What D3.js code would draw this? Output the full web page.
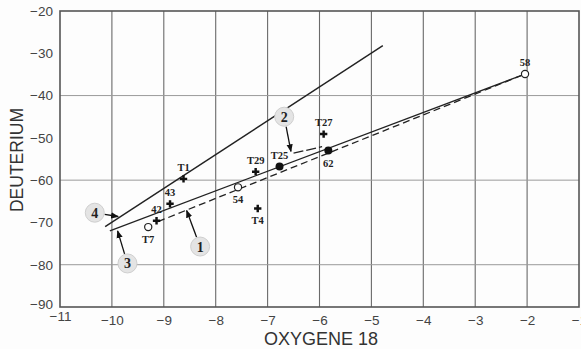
<!DOCTYPE html>
<html><head><meta charset="utf-8">
<script src="https://cdn.jsdelivr.net/npm/d3@7"></script>
<style>body{margin:0;background:#fdfdfd}svg{display:block}</style>
</head><body>
<svg id="c" width="581" height="349"></svg>
<script>
// Data
const xTicks = [-11,-10,-9,-8,-7,-6,-5,-4,-3,-2,-1];
const yTicks = [-20,-30,-40,-50,-60,-70,-80,-90];
const yGrid = [-40,-60,-80];
const sampleNames = ["T1","43","42","T7","54","T4","T29","T25","T27","62","58"];
const sampleO18 = [-8.62,-8.88,-9.14,-9.30,-7.57,-7.19,-7.23,-6.77,-5.92,-5.83,-2.04];
const sampleD   = [-59.7,-65.6,-69.6,-71.1,-61.7,-66.7,-58.0,-56.8,-49.1,-53.0,-34.9];
const sampleMarker = ["cross","cross","cross","open","open","cross","cross","dot","cross","dot","open"];
const labelPos = ["above","above","above","below","below","below","above","above","above","below","above"];
// Lines: [x1,y1,x2,y2]
const line4 = [-10.13,-71.0,-4.78,-28.2];   // GMWL
const line3 = [-10.04,-72.0,-2.04,-34.9];   // solid regression
const line1 = [-9.11,-69.8,-2.04,-34.9];    // dashed
const line2 = [-6.50,-53.6,-5.95,-52.1];    // short segment
// Callouts: number, bubble centre, arrow tip
const calloutNum = ["1","2","3","4"];
const calloutO18 = [-8.30,-6.68,-9.70,-10.33];
const calloutD   = [-75.7,-45.0,-79.7,-67.7];
const tipO18 = [-8.56,-6.55,-9.89,-9.88];
const tipD   = [-67.2,-53.2,-72.0,-68.6];

const svg = d3.select("#c");
const L=60,R=579,T=11,B=307;
const x = d3.scaleLinear().domain([-11,-1]).range([L,R]);
const y = d3.scaleLinear().domain([-90,-20]).range([B,T]);

// grid
svg.append("g").selectAll("line").data(xTicks.slice(1,-1)).join("line")
  .attr("x1",d=>x(d)).attr("x2",d=>x(d)).attr("y1",T).attr("y2",B)
  .attr("stroke","#6a6a6a").attr("stroke-width",1.1);
svg.append("g").selectAll("line").data(yGrid).join("line")
  .attr("x1",L).attr("x2",R).attr("y1",d=>y(d)).attr("y2",d=>y(d))
  .attr("stroke","#9a9a9a").attr("stroke-width",1);

// frame
svg.append("rect").attr("x",L).attr("y",T).attr("width",R-L).attr("height",B-T)
  .attr("fill","none").attr("stroke","#555").attr("stroke-width",1.6);

// axes tick labels
const xa = d3.axisBottom(x).tickValues(xTicks).tickSize(0).tickFormat(d3.format("d"));
const gx = svg.append("g").attr("transform",`translate(0,${B+5})`).call(xa);
gx.select(".domain").remove();
gx.selectAll("text").attr("font-family","Liberation Sans, Arial").attr("font-size",13.5).attr("fill","#444");
const ya = d3.axisLeft(y).tickValues(yTicks).tickSize(0).tickFormat(d3.format("d"));
const gy = svg.append("g").attr("transform",`translate(${L-4},0)`).call(ya);
gy.select(".domain").remove();
gy.selectAll("text").attr("font-family","Liberation Sans, Arial").attr("font-size",13.5).attr("fill","#444");
gx.selectAll(".tick").filter(d=>d===-11).select("text").attr("dy","0.45em");
gy.selectAll(".tick").filter(d=>d===-90).select("text").attr("dy","0.1em");

// axis titles
svg.append("text").attr("x",321).attr("y",345).attr("text-anchor","middle")
  .attr("font-family","Liberation Sans, Arial").attr("font-size",18).attr("fill","#333").text("OXYGENE 18");
svg.append("text").attr("transform",`translate(23,${(T+B)/2+1}) rotate(-90)`).attr("text-anchor","middle")
  .attr("font-family","Liberation Sans, Arial").attr("font-size",17.5).attr("fill","#333").text("DEUTERIUM");

// lines
function seg(a,dash,w){
  svg.append("line").attr("x1",x(a[0])).attr("y1",y(a[1])).attr("x2",x(a[2])).attr("y2",y(a[3]))
    .attr("stroke","#222").attr("stroke-width",w).attr("stroke-dasharray",dash);
}
seg(line4,null,1.4);
seg(line3,null,1.3);
seg(line1,"7,4",1.3);
seg(line2,"10,3",1.3);

// points
const pts = sampleNames.map((n,i)=>({n,xv:sampleO18[i],yv:sampleD[i],m:sampleMarker[i],p:labelPos[i]}));
const g = svg.append("g");
pts.forEach(p=>{
  const px=x(p.xv), py=y(p.yv);
  if(p.m==="cross"){
    g.append("path").attr("d",d3.symbol(d3.symbolCross,30)()).attr("transform",`translate(${px},${py})`).attr("fill","#111");
  } else if(p.m==="dot"){
    g.append("circle").attr("cx",px).attr("cy",py).attr("r",4).attr("fill","#111");
  } else {
    g.append("circle").attr("cx",px).attr("cy",py).attr("r",3.6).attr("fill","#fff").attr("stroke","#222").attr("stroke-width",1.2);
  }
  g.append("text").attr("x",px).attr("y",p.p==="above"?py-8:py+16).attr("text-anchor","middle")
    .attr("font-family","Liberation Serif, Times New Roman").attr("font-weight","bold").attr("font-size",10.5)
    .attr("fill","#222").text(p.n);
});

// callouts
svg.append("defs").append("marker").attr("id","ah").attr("viewBox","0 0 10 10").attr("refX",9).attr("refY",5)
  .attr("markerWidth",6).attr("markerHeight",6).attr("orient","auto")
  .append("path").attr("d","M0,1L10,5L0,9z").attr("fill","#111");
calloutNum.forEach((n,i)=>{
  const cx=x(calloutO18[i]), cy=y(calloutD[i]);
  const tx=x(tipO18[i]), ty=y(tipD[i]);
  const dx=tx-cx, dy=ty-cy, len=Math.hypot(dx,dy);
  svg.append("line").attr("x1",cx+dx/len*10).attr("y1",cy+dy/len*10).attr("x2",tx).attr("y2",ty)
    .attr("stroke","#111").attr("stroke-width",1.3).attr("marker-end","url(#ah)");
  svg.append("ellipse").attr("cx",cx).attr("cy",cy).attr("rx",9.5).attr("ry",9.5)
    .attr("fill","#e4e4e4").attr("stroke","#cfcfcf");
  svg.append("text").attr("x",cx).attr("y",cy+5).attr("text-anchor","middle")
    .attr("font-family","Liberation Serif, Times New Roman").attr("font-weight","bold").attr("font-size",14)
    .attr("fill","#222").text(n);
});
</script>
</body></html>
